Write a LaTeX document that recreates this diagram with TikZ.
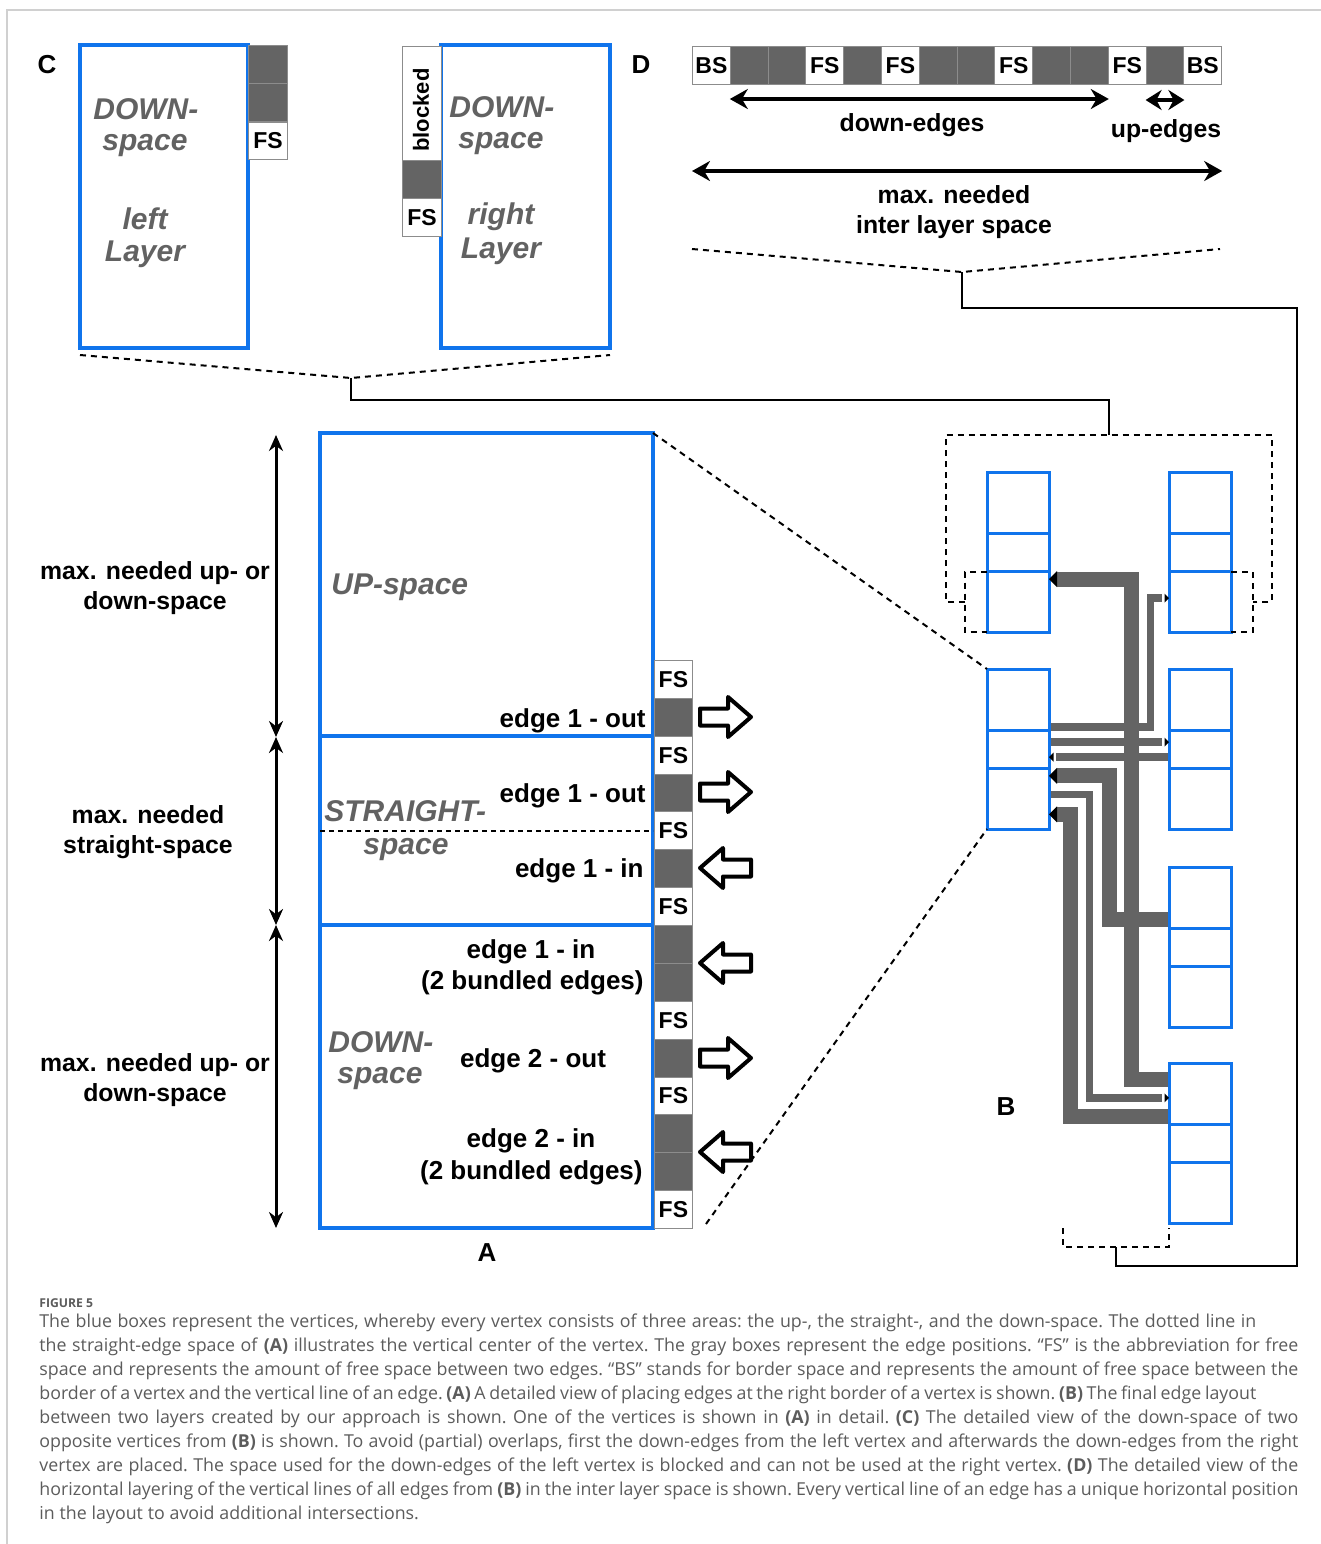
\documentclass[tikz,border=0pt]{standalone}
\usepackage{fontspec}
\setmainfont{Liberation Sans}
\newfontfamily\capfont{Open Sans}
\usetikzlibrary{arrows.meta}
\definecolor{vblue}{RGB}{16,116,236}
\definecolor{cgray}{RGB}{100,100,100}
\definecolor{tgray}{RGB}{98,98,98}
\definecolor{capgray}{RGB}{92,92,92}
\definecolor{framegray}{RGB}{208,208,208}
\definecolor{cellline}{RGB}{140,140,140}
\newcommand\blkR[2]{\draw[blk] (700,#2) ++(0,-8.5) -- ++(28,0) -- ++(0,-11.5) -- ++(23,20) -- ++(-23,20) -- ++(0,-11.5) -- ++(-28,0) -- cycle;\coordinate (#1) at (725,#2);}
\newcommand\blkL[2]{\draw[blk] (751,#2) ++(0,-8.5) -- ++(-28,0) -- ++(0,-11.5) -- ++(-23,20) -- ++(23,20) -- ++(0,-11.5) -- ++(28,0) -- cycle;\coordinate (#1) at (725,#2);}
\newcommand\vtxbox[3]{\draw[bline] (#2,#3) rectangle ++(62,160);
  \draw[bline] (#2,{#3+61}) -- ++(62,0); \draw[bline] (#2,{#3+99}) -- ++(62,0);
  \coordinate (#1) at (#2,#3);}
\newcommand\tipL[2]{\fill[black] (1049,#2) -- ++(#1,-#1) -- ++(0,{2*#1}) -- cycle;}
\newcommand\tipR[2]{\fill[black] (1169,#2) -- ++(-#1,-#1) -- ++(0,{2*#1}) -- cycle;}
\newcommand\capsetup{\capfont\fontsize{8.9}{12}\selectfont\frenchspacing\spaceskip=0.27em plus 1.5em minus 0.15em\relax}
\begin{document}
\begin{tikzpicture}[x=0.5pt,y=-0.5pt,
  ablue/.style={draw=vblue,line width=2pt},
  bline/.style={draw=vblue,line width=1.5pt},
  cellg/.style={draw=cellline,fill=cgray,line width=0.5pt,minimum width=18.9pt,minimum height=18.9pt,inner sep=0pt,anchor=north west},
  cellw/.style={draw=cellline,fill=white,line width=0.5pt,minimum width=18.9pt,minimum height=18.9pt,inner sep=0pt,anchor=north west,font=\fontsize{11.5}{13}\selectfont\bfseries},
  lbl/.style={font=\fontsize{13}{15}\selectfont\bfseries,align=center,inner sep=0pt,yshift=-1pt},
  slbl/.style={font=\fontsize{12.4}{15}\selectfont\bfseries,align=center,inner sep=0pt,yshift=-1.2pt},
  glbl/.style={font=\fontsize{15}{17}\selectfont\bfseries\itshape,text=tgray,inner sep=0pt,yshift=-0.8pt},
  blk/.style={draw=black,line width=2pt,line join=round,fill=white},
  gedge/.style={draw=cgray,line cap=butt,line join=miter},
  thick edge/.style={gedge,line width=7.5pt},
  thin edge/.style={gedge,line width=3.75pt},
  dline/.style={dash pattern=on 3pt off 2.5pt,line width=1pt},
  conn/.style={line width=1pt},
  dbl/.style={line width=1.5pt,{Stealth[length=8pt,width=7pt]}-{Stealth[length=8pt,width=7pt]}},
  capline/.style={font=\capsetup,text=capgray,inner sep=0pt,anchor=base west}
]
\useasboundingbox (0,0) rectangle (1321,1544);
\fill[white] (0,0) rectangle (1321,1544);
\draw[framegray,line width=0.6pt] (7,1544) -- (7,10) -- (1321,10);

% ================= Panel C =================
\node[lbl] (labC) at (47,63) {C};
\draw[ablue] (80,45) rectangle (248,348);
\node[cellg,minimum width=19.5pt] (c1) at (248,45) {};
\node[cellg,minimum width=19.5pt] (c2) at (248,83.3) {};
\node[cellw,minimum width=19.5pt] (c3) at (248,121.6) {FS};
\node[glbl,anchor=west] (cdown) at (93,108) {DOWN-};
\node[glbl] (cspace) at (145,144) {space};
\node[glbl] (cleft) at (145,217) {left};
\node[glbl] (clayer) at (145,253) {Layer};

\draw[ablue] (441,45) rectangle (610,348);
\node[cellw,minimum width=19.5pt,minimum height=57.2pt] (cb) at (402,45.7) {};
\node[font=\fontsize{11}{13}\selectfont\bfseries,rotate=90,inner sep=0pt] (blocked) at (421,110) {blocked};
\node[cellg,minimum width=19.5pt] (cb2) at (402,160) {};
\node[cellw,minimum width=19.5pt] (cb3) at (402,197.7) {FS};
\node[glbl,anchor=west] (rdown) at (449,106) {DOWN-};
\node[glbl] (rspace) at (501,142) {space};
\node[glbl] (rright) at (501,215) {right};
\node[glbl] (rlayer) at (501,250) {Layer};

\coordinate (cvL) at (80,355);
\coordinate (cvM) at (351,378);
\coordinate (cvR) at (610,355);
\draw[dline] (cvL) -- (cvM) -- (cvR);

% ================= Panel D =================
\node[lbl] (labD) at (641,63) {D};
\foreach \i/\t/\s in {0/w/BS,1/g/,2/g/,3/w/FS,4/g/,5/w/FS,6/g/,7/g/,8/w/FS,9/g/,10/g/,11/w/FS,12/g/,13/w/BS}{
  \node[cell\t,minimum width=18.9pt,minimum height=19pt] (d\i) at ({692+\i*37.8},46) {\s};
}
\draw[line width=2pt,{Stealth[length=9pt,width=10pt]}-{Stealth[length=9pt,width=10pt]}] (d1.south west|-0,99) -- (d10.south east|-0,99);
\draw[line width=2pt,{Stealth[length=8pt,width=10pt]}-{Stealth[length=8pt,width=10pt]}] (d12.south west|-0,100) -- (d12.south east|-0,100);
\node[slbl] (downedges) at (912,123) {down-edges};
\node[slbl] (upedges) at (1166,129) {up-edges};
\draw[line width=2pt,{Stealth[length=9pt,width=10pt]}-{Stealth[length=9pt,width=10pt]}] (d0.south west|-0,171) -- (d13.south east|-0,171);
\node[slbl] (maxinter) at (954,210) {max. needed\\inter layer space};
\coordinate (dvL) at (692,249);
\coordinate (dvM) at (962,272);
\coordinate (dvR) at (1220,249);
\draw[dline] (dvL) -- (dvM) -- (dvR);

% ================= Panel A =================
\draw[ablue] (320,433) rectangle (653,1228);
\draw[ablue] (320,736) -- (653,736);
\draw[ablue] (320,925) -- (653,925);
\draw[dash pattern=on 2.5pt off 2pt,line width=0.75pt] (320,831) -- (653,831);
\coordinate (aTR) at (653,433);
\coordinate (aBR) at (706,1224);
\foreach \i/\t/\s in {0/w/FS,1/g/,2/w/FS,3/g/,4/w/FS,5/g/,6/w/FS,7/g/,8/g/,9/w/FS,10/g/,11/w/FS,12/g/,13/g/,14/w/FS}{
  \node[cell\t,minimum height=18.93pt] (a\i) at (654,{660+\i*37.87}) {\s};
}
\blkR{ar1}{717}
\blkR{ar2}{792}
\blkL{ar3}{868}
\blkL{ar4}{963}
\blkR{ar5}{1058}
\blkL{ar6}{1152}

\node[glbl,anchor=west] (upspace) at (331,586) {UP-space};
\node[lbl,anchor=east] (e1) at (646,719) {edge 1 - out};
\node[lbl,anchor=east] (e2) at (646,794) {edge 1 - out};
\node[lbl,anchor=east] (e3) at (644,869) {edge 1 - in};
\node[glbl,anchor=west] (straight) at (324,810) {STRAIGHT-};
\node[glbl] (sspace) at (406,848) {space};
\node[lbl] (e4) at (531,950) {edge 1 - in};
\node[lbl,anchor=east] (e4b) at (644,981) {(2 bundled edges)};
\node[glbl,anchor=west] (adown) at (328,1041) {DOWN-};
\node[glbl] (adspace) at (380,1077) {space};
\node[lbl] (e5) at (533,1059) {edge 2 - out};
\node[lbl] (e6) at (531,1139) {edge 2 - in};
\node[lbl,anchor=east] (e6b) at (643,1171) {(2 bundled edges)};
\node[lbl] (labA) at (487,1251) {A};

\coordinate (v0) at (276,435);
\coordinate (v1) at (276,737);
\coordinate (v2) at (276,925);
\coordinate (v3) at (276,1228);
\draw[dbl] (v0) -- (v1);
\draw[dbl] (v1) -- (v2);
\draw[dbl] (v2) -- (v3);
\node[slbl] (l1) at (155,586) {max. needed up- or\\down-space};
\node[slbl] (l2) at (148,830) {max. needed\\straight-space};
\node[slbl] (l3) at (155,1078) {max. needed up- or\\down-space};

% ================= Panel B =================
\draw[thin edge] (1049,727) -- (1150.3,727) -- (1150.3,598) -- (1162,598);
\draw[thin edge] (1049,742) -- (1162,742);
\draw[thin edge] (1169,757) -- (1056,757);
\draw[thick edge] (1169,1079) -- (1131.5,1079) -- (1131.5,579) -- (1057,579);
\draw[thick edge] (1169,919.8) -- (1109.2,919.8) -- (1109.2,775.8) -- (1057,775.8);
\draw[thin edge] (1049,794.5) -- (1089.7,794.5) -- (1089.7,1097.8) -- (1162,1097.8);
\draw[thick edge] (1169,1116) -- (1070.8,1116) -- (1070.8,814.3) -- (1057,814.3);

\vtxbox{b1l}{987}{472}
\vtxbox{b2l}{987}{669}
\vtxbox{b1r}{1169}{472}
\vtxbox{b2r}{1169}{669}
\vtxbox{b3r}{1169}{867}
\vtxbox{b4r}{1169}{1063}

\tipL{8}{579}
\tipL{8}{775.8}
\tipL{8}{814.3}
\tipL{4.5}{757}
\tipR{4.5}{598}
\tipR{4.5}{742}
\tipR{4.5}{1097.8}

\node[lbl] (labB) at (1006,1105) {B};

\draw[dline] (965,601.7) -- (945.7,601.7) -- (945.7,435) -- (1271.7,435) -- (1271.7,601.7) -- (1252.7,601.7);
\draw[dline] (987,571.7) -- (965,571.7) -- (965,632) -- (987,632);
\draw[dline] (1231,571.7) -- (1252.7,571.7) -- (1252.7,632) -- (1231,632);
\draw[dline] (1063,1228) -- (1063,1247) -- (1169,1247) -- (1169,1228);

\draw[dline] (aTR) -- (b2l);
\draw[dline] (aBR) -- (987,829);

\coordinate (bTop) at (1109,435);
\coordinate (bBot) at (1116,1247);
\draw[conn] (cvM) -- (351,400) -| (bTop);
\draw[conn] (dvM) -- (962,308) -- (1297,308) -- (1297,1266) -| (bBot);

% ================= Caption =================
\node[font=\capfont\bfseries\fontsize{6.1}{8}\selectfont,text=capgray,inner sep=0pt,anchor=base west] (fig) at (39,1307) {FIGURE 5};
\node[capline] (k1) at (39,1327) {\makebox[608.5pt][s]{The blue boxes represent the vertices, whereby every vertex consists of three areas: the up-, the straight-, and the down-space. The dotted line in}};
\node[capline] (k2) at (39,1351) {\makebox[629.5pt][s]{the straight-edge space of \textbf{(A)} illustrates the vertical center of the vertex. The gray boxes represent the edge positions. “FS” is the abbreviation for free}};
\node[capline] (k3) at (39,1375) {\makebox[629.5pt][s]{space and represents the amount of free space between two edges. “BS” stands for border space and represents the amount of free space between the}};
\node[capline] (k4) at (39,1399) {\makebox[608.5pt][s]{border of a vertex and the vertical line of an edge. \textbf{(A)} A detailed view of placing edges at the right border of a vertex is shown. \textbf{(B)} The final edge layout}};
\node[capline] (k5) at (39,1423) {\makebox[629.5pt][s]{between two layers created by our approach is shown. One of the vertices is shown in \textbf{(A)} in detail. \textbf{(C)} The detailed view of the down-space of two}};
\node[capline] (k6) at (39,1447) {\makebox[629.5pt][s]{opposite vertices from \textbf{(B)} is shown. To avoid (partial) overlaps, first the down-edges from the left vertex and afterwards the down-edges from the right}};
\node[capline] (k7) at (39,1471) {\makebox[629.5pt][s]{vertex are placed. The space used for the down-edges of the left vertex is blocked and can not be used at the right vertex. \textbf{(D)} The detailed view of the}};
\node[capline] (k8) at (39,1495) {\makebox[629.5pt][s]{horizontal layering of the vertical lines of all edges from \textbf{(B)} in the inter layer space is shown. Every vertical line of an edge has a unique horizontal position}};
\node[capline] (k9) at (39,1519) {in the layout to avoid additional intersections.};
\end{tikzpicture}
\end{document}
